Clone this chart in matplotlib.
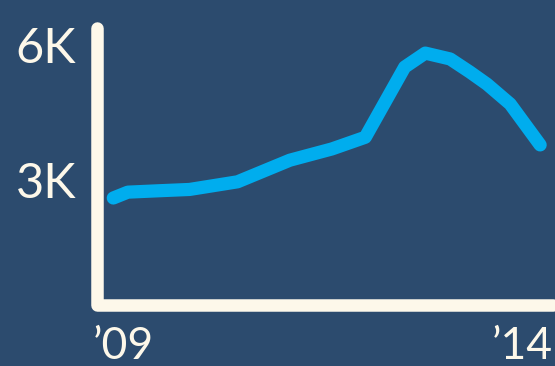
# Dark-blue single line chart, 2009-2014
import matplotlib
matplotlib.use("Agg")
import matplotlib.pyplot as plt

years  = [2009.02, 2009.19, 2009.54, 2009.91, 2010.47, 2011.08, 2011.57,
          2011.96, 2012.42, 2012.66, 2012.95, 2013.18, 2013.38, 2013.65, 2014.0]
values = [2600, 2730, 2760, 2790, 2960, 3440, 3690,
          3950, 5510, 5820, 5690, 5400, 5130, 4690, 3780]

ytick_vals   = [3000, 6000]
ytick_labels = ['3K', '6K']
xtick_labels = ["\u201909", "\u201914"]

bg    = '#2c4b6e'
cream = '#fdf8ea'
blue  = '#00adee'

plt.rcParams['font.family'] = ['Lato', 'DejaVu Sans']

fig = plt.figure(figsize=(5.55, 3.66), dpi=100, facecolor=bg)
ax = fig.add_axes([97/555, 1 - 305/366, 456/555, (305 - 28)/366])
ax.set_facecolor(bg)

ax.plot(years, values, color=blue, lw=9.5, solid_capstyle='round',
        solid_joinstyle='round', clip_on=False, zorder=3)

ax.set_xlim(2008.83, 2014.15)
ax.set_ylim(222, 6378)

for s in ax.spines.values():
    s.set_visible(False)

# L-shaped axis with rounded ends
ax.plot([0, 0, 1], [1, 0, 0], transform=ax.transAxes, color=cream, lw=9,
        solid_capstyle='round', solid_joinstyle='round', clip_on=False, zorder=2)

ax.set_xticks([])
ax.set_yticks(ytick_vals)
ax.set_yticklabels(ytick_labels, fontsize=35, color=cream)
ax.tick_params(axis='y', length=0, pad=15)

ax.text(-0.01, -0.075, xtick_labels[0], transform=ax.transAxes, ha='left', va='top',
        fontsize=32, color=cream)
ax.text(1.0, -0.075, xtick_labels[1], transform=ax.transAxes, ha='right', va='top',
        fontsize=32, color=cream)

fig.savefig('out.png', dpi=100, facecolor=bg)
